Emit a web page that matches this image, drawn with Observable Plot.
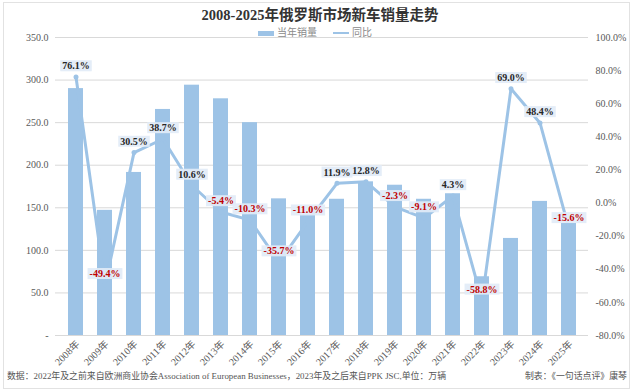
<!DOCTYPE html>
<html>
<head>
<meta charset="utf-8">
<script src="https://cdn.jsdelivr.net/npm/d3@7"></script>
<script src="https://cdn.jsdelivr.net/npm/@observablehq/plot@0.6"></script>
<style>
  html, body { margin: 0; padding: 0; background: #fff; }
  #wrap { position: relative; width: 640px; height: 392px; overflow: hidden; font-family: "Liberation Serif", "Noto Sans CJK SC", serif; }
  #frame { position: absolute; left: 3px; top: 2px; width: 627px; height: 387px; border: 1px solid #e2e2e2; box-sizing: border-box; }
  #title { position: absolute; left: 0; top: 6px; width: 640px; text-align: center; font-size: 14.5px; font-weight: bold; color: #333; line-height: 18px; }
  #legend { position: absolute; left: 258px; top: 27px; font-size: 10px; color: #8a8a8a; line-height: 12px; display: flex; align-items: center; }
  #legend .sw { display: inline-block; width: 16px; height: 5px; background: #9dc3e6; margin-right: 3px; }
  #legend .ln { display: inline-block; width: 16px; height: 2px; background: #9dc3e6; margin-right: 3px; margin-left: 16px; }
  #chart { position: absolute; left: 0; top: 26px; }
  #foot { position: absolute; left: 7px; top: 370px; width: 622px; font-size: 8.9px; color: #555; line-height: 12px; }
  #foot .r { position: absolute; right: 2px; top: 0; }
</style>
</head>
<body>
<div id="wrap">
  <div id="frame"></div>
  <div id="chart"></div>
  <div id="title">2008-2025年俄罗斯市场新车销量走势</div>
  <div id="legend"><span class="sw"></span><span>当年销量</span><span class="ln"></span><span>同比</span></div>
  <div id="foot"><span>数据：2022年及之前来自欧洲商业协会Association of European Businesses，2023年及之后来自PPK JSC,单位：万辆</span><span class="r">制表：《一句话点评》康琴</span></div>
</div>
<script>
const years = ["2008年","2009年","2010年","2011年","2012年","2013年","2014年","2015年","2016年","2017年","2018年","2019年","2020年","2021年","2022年","2023年","2024年","2025年"];
const sales = [290, 147, 191.5, 265.5, 294, 278, 250, 160.5, 142, 160, 180.5, 176.5, 160, 166.5, 69, 114, 157.5, 132];
const yoy = [76.1, -49.4, 30.5, 38.7, 10.6, -5.4, -10.3, -35.7, -11.0, 11.9, 12.8, -2.3, -9.1, 4.3, -58.8, 69.0, 48.4, -15.6];
const leftTicks = [0, 50, 100, 150, 200, 250, 300, 350];
const rightTicks = [-80, -60, -40, -20, 0, 20, 40, 60, 80, 100];

const LMAX = 350, RMIN = -80, RMAX = 100;
const conv = p => (p - RMIN) * LMAX / (RMAX - RMIN);
const unconv = v => v * (RMAX - RMIN) / LMAX + RMIN;

const data = years.map((y, i) => ({year: y, sales: sales[i], yoy: yoy[i]}));
const blue = "#9dc3e6";
const tickFont = "Liberation Serif";

const svg = Plot.plot({
  width: 640,
  height: 342,
  marginTop: 11,
  marginBottom: 33,
  marginLeft: 55,
  marginRight: 52,
  style: {fontFamily: "Liberation Serif, Noto Sans CJK SC", fontSize: "10px", color: "#595959", background: "transparent"},
  x: {domain: years, paddingInner: 0.5, paddingOuter: 0.25, label: null},
  y: {domain: [0, LMAX], label: null},
  marks: [
    Plot.gridY(leftTicks, {stroke: "#d9d9d9", strokeOpacity: 1}),
    Plot.axisY(leftTicks, {anchor: "left", tickSize: 0, tickPadding: 7, tickFormat: v => v === 0 ? "-" : v.toFixed(1), fill: "#595959", fontFamily: tickFont, label: null}),
    Plot.axisY(rightTicks.map(conv), {anchor: "right", tickSize: 0, tickPadding: 7, tickFormat: v => Math.round(unconv(v)).toFixed(1) + "%", fill: "#595959", fontFamily: tickFont, label: null}),
    Plot.axisX({tickSize: 0, tickPadding: 7, tickRotate: -45, fill: "#595959", fontFamily: "Liberation Serif, Noto Sans CJK SC", fontSize: 10, label: null, dx: 2}),
    Plot.barY(data, {x: "year", y: "sales", fill: blue}),
    Plot.lineY(data, {x: "year", y: d => conv(d.yoy), stroke: blue, strokeWidth: 3, curve: "linear"}),
    Plot.dot(data, {x: "year", y: d => conv(d.yoy), r: 2.5, fill: blue}),
    Plot.text(data, {x: "year", y: d => conv(d.yoy), dy: -11, text: d => d.yoy.toFixed(1) + "%",
      fill: d => d.yoy < 0 ? "#c00000" : "#262626", fontWeight: "bold", fontSize: 10,
      fontFamily: "Liberation Serif", className: "vlabel"})
  ]
});
document.getElementById("chart").appendChild(svg);

// draw label boxes behind the value labels
const labelTexts = svg.querySelectorAll(".vlabel text");
labelTexts.forEach(t => {
  const b = t.getBBox();
  const r = document.createElementNS("http://www.w3.org/2000/svg", "rect");
  r.setAttribute("x", b.x - 2);
  r.setAttribute("y", b.y);
  r.setAttribute("width", b.width + 4);
  r.setAttribute("height", b.height);
  r.setAttribute("fill", "#e2ecf7");
  r.setAttribute("fill-opacity", "0.92");
  const tr = t.getAttribute("transform");
  if (tr) r.setAttribute("transform", tr);
  t.parentNode.insertBefore(r, t);
});
</script>
</body>
</html>
